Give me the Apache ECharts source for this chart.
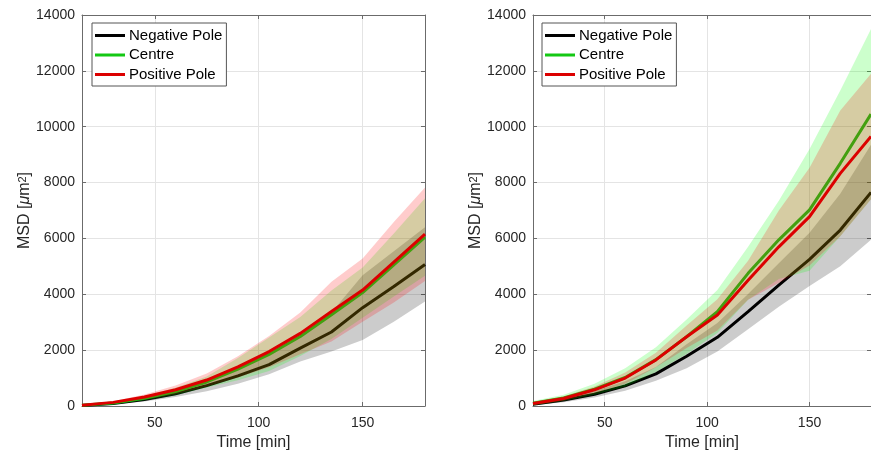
<!DOCTYPE html>
<html>
<head>
<meta charset="utf-8">
<script src="https://cdn.jsdelivr.net/npm/echarts@6/dist/echarts.min.js"></script>
<style>
  html, body { margin: 0; padding: 0; background: #fff; }
  #chart { width: 871px; height: 457px; }
</style>
</head>
<body>
<div id="chart"></div>
<script>
// Sampling times (min)
const time = [15, 30, 45, 60, 75, 90, 105, 120, 135, 150, 165, 180];
const xTicks = [50, 100, 150];
const seriesNames = ['Negative Pole', 'Centre', 'Positive Pole'];

// Panel A: mean MSD and standard deviation (um^2)
const negA = [20, 90, 230, 440, 730, 1080, 1480, 2070, 2650, 3520, 4280, 5070];
const negA_sd = [10, 30, 70, 120, 200, 280, 340, 480, 700, 1160, 1260, 1330];
const cenA = [25, 110, 280, 520, 860, 1320, 1850, 2490, 3270, 4060, 5050, 6050];
const cenA_sd = [12, 35, 80, 130, 200, 400, 600, 700, 870, 900, 1130, 1390];
const posA = [30, 130, 320, 580, 930, 1400, 1950, 2600, 3380, 4150, 5150, 6150];
const posA_sd = [15, 40, 90, 150, 230, 380, 560, 750, 1070, 1135, 1440, 1670];

// Panel B: mean MSD and standard deviation (um^2)
const negB = [60, 210, 420, 720, 1150, 1780, 2460, 3380, 4330, 5250, 6300, 7650];
const negB_sd = [20, 80, 120, 170, 250, 430, 510, 630, 780, 950, 1300, 1700];
const cenB = [100, 290, 600, 1020, 1660, 2480, 3380, 4750, 5950, 7020, 8690, 10450];
const cenB_sd = [80, 110, 200, 330, 440, 620, 770, 950, 1400, 2180, 2610, 3050];
const posB = [90, 270, 580, 1000, 1650, 2480, 3260, 4500, 5700, 6780, 8330, 9650];
const posB_sd = [60, 80, 120, 200, 260, 400, 560, 700, 1300, 1750, 2250, 2250];

const LINE_COLORS = ['#000000', '#14c814', '#dc0000'];
const BAND_COLORS = ['rgba(0,0,0,0.2)', 'rgba(0,255,0,0.2)', 'rgba(255,0,0,0.2)'];
const FONT = '"Liberation Sans", Arial, Helvetica, sans-serif';
const TEXT = '#262626';
const AXIS = '#6b6b6b';

// Shaded mean ± sd band, drawn as one polygon through the axis scales
function band(panel, mean, sd, color, z) {
  return {
    type: 'custom', xAxisIndex: panel * 2, yAxisIndex: panel * 2,
    silent: true, animation: false, z: z,
    data: time.map((t, i) => [t, mean[i] - sd[i], mean[i] + sd[i]]),
    encode: { x: 0, y: [1, 2] },
    renderItem: function (params, api) {
      if (params.dataIndexInside !== 0) return null;
      const n = params.dataInsideLength;
      const upper = [], lower = [];
      for (let i = 0; i < n; i++) {
        const t = api.value(0, i);
        lower.push(api.coord([t, api.value(1, i)]));
        upper.push(api.coord([t, api.value(2, i)]));
      }
      return {
        type: 'polygon',
        shape: { points: upper.concat(lower.reverse()) },
        style: { fill: color, stroke: null }
      };
    }
  };
}

function line(panel, name, mean, color, z) {
  return {
    type: 'line', name: name, xAxisIndex: panel * 2, yAxisIndex: panel * 2,
    data: time.map((t, i) => [t, mean[i]]),
    symbol: 'none', color: color, animation: false, z: z,
    lineStyle: { color: color, width: 3 }
  };
}

// Each group: band then its mean line, later groups stacked on top
function panelSeries(panel, groups) {
  let out = [];
  groups.forEach((g, k) => {
    out.push(band(panel, g[0], g[1], BAND_COLORS[k], 2 + 2 * k));
    out.push(line(panel, seriesNames[k], g[0], LINE_COLORS[k], 3 + 2 * k));
  });
  return out;
}

function xAxes(gridIndex) {
  return [
    {
      type: 'value', gridIndex: gridIndex, position: 'bottom', min: 15, max: 180,
      name: 'Time [min]', nameLocation: 'middle', nameGap: 29,
      nameTextStyle: { fontFamily: FONT, fontSize: 16, color: TEXT },
      axisLine: { show: true, onZero: false, lineStyle: { color: AXIS, width: 1 } },
      axisTick: { show: true, inside: true, length: 4, customValues: xTicks, lineStyle: { color: AXIS } },
      axisLabel: { customValues: xTicks, margin: 10, fontFamily: FONT, fontSize: 14, color: TEXT },
      splitLine: { show: true, lineStyle: { color: '#e4e4e4', width: 1 } }
    },
    {
      type: 'value', gridIndex: gridIndex, position: 'top', min: 15, max: 180,
      axisLine: { show: true, onZero: false, lineStyle: { color: AXIS, width: 1 } },
      axisTick: { show: true, inside: true, length: 4, customValues: xTicks, lineStyle: { color: AXIS } },
      axisLabel: { show: false }, splitLine: { show: false }
    }
  ];
}

function yAxes(gridIndex) {
  return [
    {
      type: 'value', gridIndex: gridIndex, position: 'left', min: 0, max: 14000, interval: 2000,
      name: '{n|MSD [}{mu|μ}{n|m}{sup|2}{n|]}', nameLocation: 'middle', nameRotate: 90, nameGap: 49,
      nameMoveOverlap: false,
      nameTextStyle: {
        fontFamily: FONT, fontSize: 16, color: TEXT,
        rich: {
          n: { fontFamily: FONT, fontSize: 16, color: TEXT },
          mu: { fontFamily: FONT, fontSize: 16, color: TEXT, fontStyle: 'italic' },
          sup: { fontFamily: FONT, fontSize: 11, color: TEXT, verticalAlign: 'top', lineHeight: 12, padding: [0, 0, 8, 0] }
        }
      },
      axisLine: { show: true, onZero: false, lineStyle: { color: AXIS, width: 1 } },
      axisTick: { show: true, inside: true, length: 4, lineStyle: { color: AXIS } },
      axisLabel: { margin: 7, fontFamily: FONT, fontSize: 14, color: TEXT, formatter: v => String(v) },
      splitLine: { show: true, lineStyle: { color: '#e4e4e4', width: 1 } }
    },
    {
      type: 'value', gridIndex: gridIndex, position: 'right', min: 0, max: 14000, interval: 2000,
      axisLine: { show: true, onZero: false, lineStyle: { color: AXIS, width: 1 } },
      axisTick: { show: true, inside: true, length: 4, lineStyle: { color: AXIS } },
      axisLabel: { show: false }, splitLine: { show: false }
    }
  ];
}

function legend(left) {
  return {
    left: left, top: 23, orient: 'vertical', selectedMode: false, z: 20,
    data: seriesNames.map(n => ({ name: n, icon: 'rect' })),
    itemWidth: 30, itemHeight: 3, itemGap: 4.5,
    padding: [5, 4, 4, 3],
    backgroundColor: '#ffffff', borderColor: '#555', borderWidth: 1,
    textStyle: { fontFamily: FONT, fontSize: 15, color: '#000', padding: [0, 0, 0, -1] }
  };
}

const chart = echarts.init(document.getElementById('chart'), null, { renderer: 'canvas' });
chart.setOption({
  animation: false,
  backgroundColor: '#ffffff',
  grid: [
    { left: 82, top: 15, width: 343, height: 391 },
    { left: 533, top: 15, width: 343, height: 391 }
  ],
  xAxis: xAxes(0).concat(xAxes(1)),
  yAxis: yAxes(0).concat(yAxes(1)),
  legend: [legend(92), legend(542)],
  series: panelSeries(0, [[negA, negA_sd], [cenA, cenA_sd], [posA, posA_sd]])
    .concat(panelSeries(1, [[negB, negB_sd], [cenB, cenB_sd], [posB, posB_sd]]))
});
</script>
</body>
</html>
